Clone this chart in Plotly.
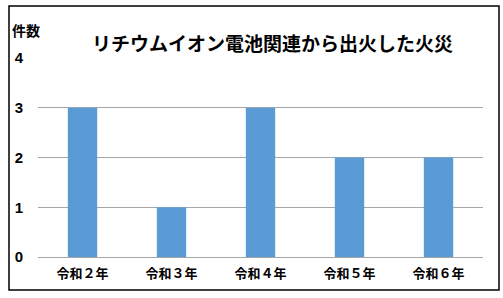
import plotly.graph_objects as go

categories = ["令和２年", "令和３年", "令和４年", "令和５年", "令和６年"]
values = [3, 1, 3, 2, 2]
y_ticks = [0, 1, 2, 3, 4]
title_text = "リチウムイオン電池関連から出火した火災"
y_label = "件数"

L, R, T, B = 38, 20, 58, 41
W, H = 503, 298
pw, ph = W - L - R, H - T - B

def px(x):
    return (x - L) / pw

def py(y):
    return (H - B - y) / ph

fig = go.Figure(go.Bar(x=categories, y=values, marker_color="#5B9BD5",
                       marker_line_width=0))

cjk = "Noto Sans CJK JP"
fig.update_layout(
    width=W, height=H,
    margin=dict(l=L, r=R, t=T, b=B),
    paper_bgcolor="white", plot_bgcolor="white",
    bargap=0.67,
    showlegend=False,
    xaxis=dict(showgrid=False, showline=True, linecolor="#A6A6A6", linewidth=1,
               ticks="", tickfont=dict(family=cjk, size=13, color="black", weight="bold"),
               ticklabelstandoff=4),
    yaxis=dict(range=[0, 4], tickvals=y_ticks, showgrid=True, gridcolor="#A6A6A6",
               gridwidth=1, zeroline=False, showline=False, ticks="",
               tickfont=dict(family="Liberation Sans", size=15, color="black", weight="bold"),
               ticklabelstandoff=14),
    annotations=[
        dict(text=title_text, x=px(272), y=py(42), xref="paper", yref="paper",
             xanchor="center", yanchor="middle",
             showarrow=False, font=dict(family=cjk, size=19, color="black", weight="bold")),
        dict(text=y_label, x=px(26), y=py(30), xref="paper", yref="paper",
             xanchor="center", yanchor="middle",
             showarrow=False, font=dict(family=cjk, size=14, color="black", weight="bold")),
    ],
    shapes=[dict(type="rect", xref="paper", yref="paper",
                 x0=px(9), x1=px(499), y0=py(290), y1=py(6),
                 line=dict(color="black", width=1.5), fillcolor="rgba(0,0,0,0)")],
)

fig.write_html("out.html")
